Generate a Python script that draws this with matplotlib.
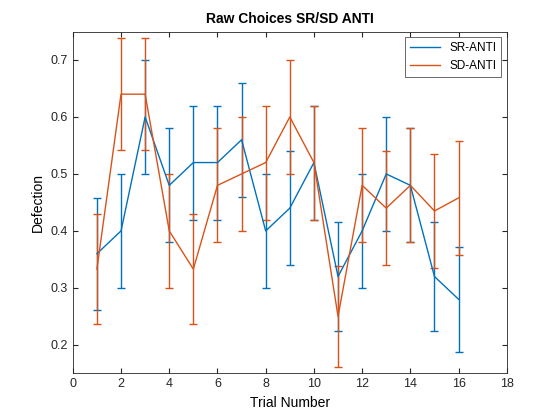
import matplotlib
matplotlib.use("Agg")
import matplotlib.pyplot as plt
from matplotlib.lines import Line2D

trials = list(range(1, 17))
sr_mean = [0.36, 0.40, 0.60, 0.48, 0.52, 0.52, 0.56, 0.40, 0.44, 0.52, 0.32, 0.40, 0.50, 0.48, 0.32, 0.28]
sr_err = [0.098, 0.1, 0.1, 0.1, 0.1, 0.1, 0.1, 0.1, 0.1, 0.1, 0.095, 0.1, 0.1, 0.1, 0.095, 0.092]
sd_mean = [0.333, 0.64, 0.64, 0.40, 0.333, 0.48, 0.50, 0.52, 0.60, 0.52, 0.25, 0.48, 0.44, 0.48, 0.435, 0.458]
sd_err = [0.096, 0.098, 0.098, 0.1, 0.096, 0.1, 0.1, 0.1, 0.1, 0.1, 0.089, 0.1, 0.1, 0.1, 0.1, 0.1]

plt.rcParams['font.family'] = ['Liberation Sans', 'DejaVu Sans']
fig = plt.figure(figsize=(5.6, 4.2), dpi=100)
ax = fig.add_axes([0.13, 0.111, 0.775, 0.814])
blue = '#0072BD'; orange = '#D95319'
ax.errorbar(trials, sr_mean, yerr=sr_err, color=blue, lw=1, capsize=3)
ax.errorbar(trials, sd_mean, yerr=sd_err, color=orange, lw=1, capsize=3)
ax.set_xlim(0, 18)
ax.set_ylim(0.15, 0.75)
ax.set_xticks(range(0, 19, 2))
ax.set_yticks([0.2, 0.3, 0.4, 0.5, 0.6, 0.7])
ax.tick_params(direction='in', labelsize=9, top=True, right=True, colors='#262626')
for s in ax.spines.values():
    s.set_color('#262626'); s.set_linewidth(0.6)
ax.set_xlabel('Trial Number', fontsize=10)
ax.set_ylabel('Defection', fontsize=10)
ax.set_title('Raw Choices SR/SD ANTI', fontsize=10, fontweight='bold')
handles = [Line2D([], [], color=blue, lw=1), Line2D([], [], color=orange, lw=1)]
leg = ax.legend(handles, ['SR-ANTI', 'SD-ANTI'], loc='upper right', fontsize=8.5,
                fancybox=False, edgecolor='#262626', handlelength=2.5)
leg.get_frame().set_linewidth(0.6)
fig.savefig('out.png', dpi=100)
